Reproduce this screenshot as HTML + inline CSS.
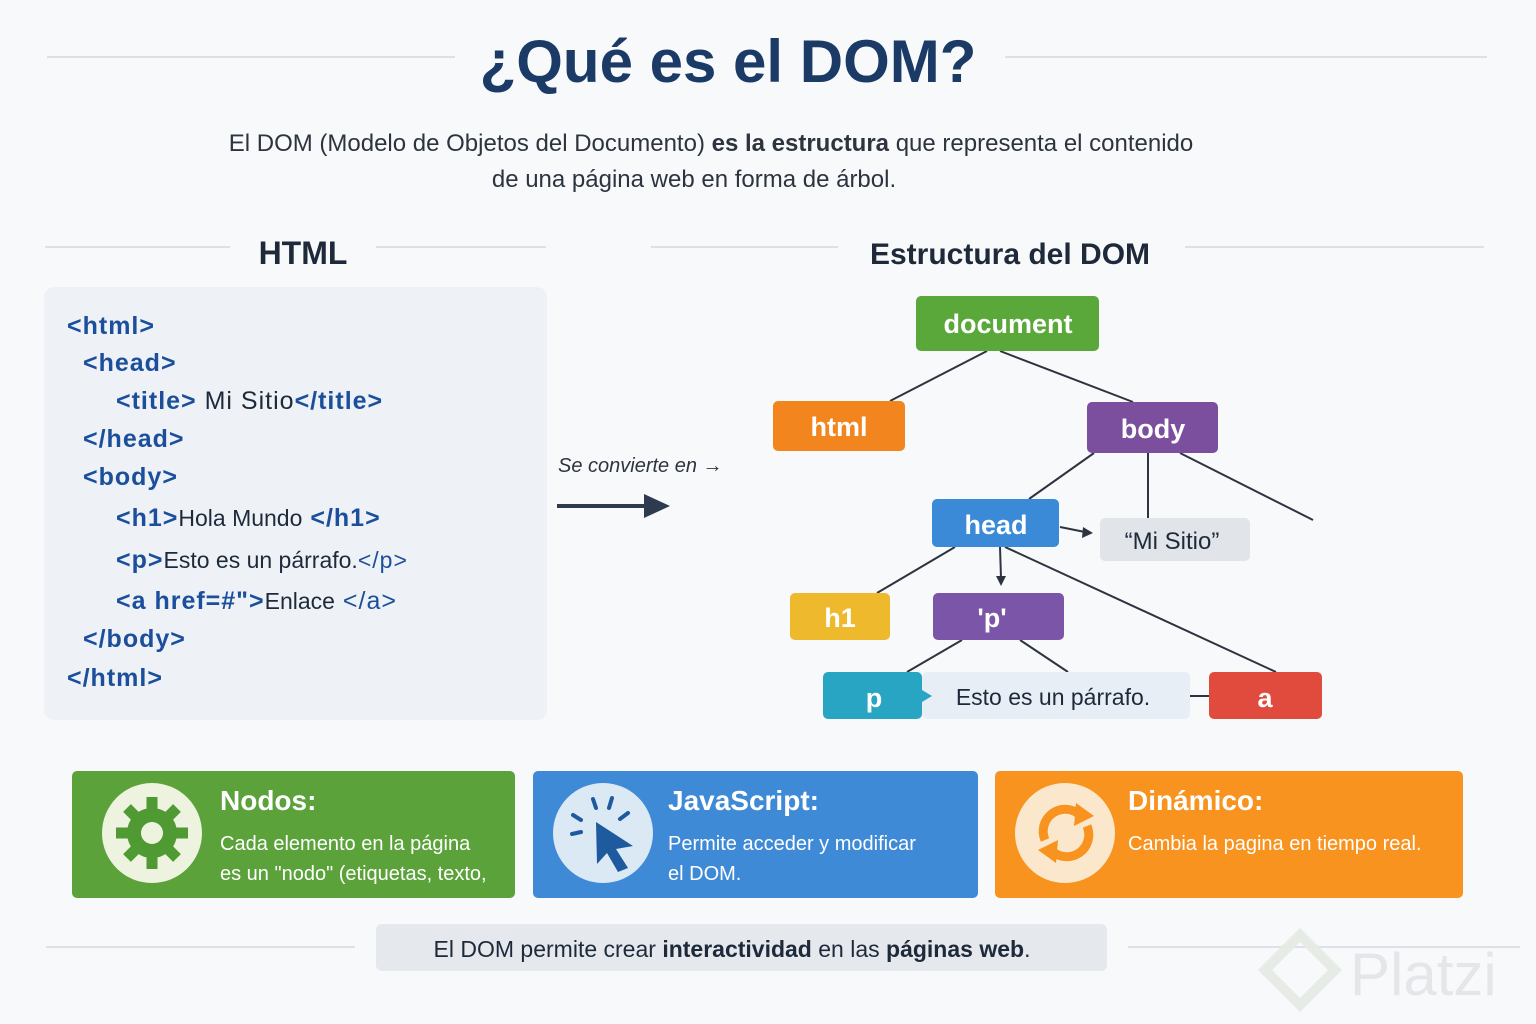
<!DOCTYPE html>
<html><head><meta charset="utf-8"><style>
html,body{margin:0;padding:0;background:#f8f9fb}
svg{display:block}
text{font-family:"Liberation Sans",sans-serif}
</style></head><body>
<svg width="1536" height="1024" viewBox="0 0 1536 1024" xmlns="http://www.w3.org/2000/svg">
<rect width="1536" height="1024" fill="#f8f9fb"/>
<g stroke="#dde1e7" stroke-width="2">
<line x1="47" y1="57" x2="455" y2="57"/><line x1="1005" y1="57" x2="1487" y2="57"/>
<line x1="45" y1="247" x2="230" y2="247"/><line x1="376" y1="247" x2="546" y2="247"/>
<line x1="651" y1="247" x2="838" y2="247"/><line x1="1185" y1="247" x2="1484" y2="247"/>
<line x1="46" y1="947" x2="355" y2="947"/><line x1="1128" y1="947" x2="1520" y2="947"/>
</g>
<text x="728" y="82" text-anchor="middle" font-size="60" font-weight="bold" fill="#1b3a66">¿Qué es el DOM?</text>
<text x="711" y="151" text-anchor="middle" font-size="24" fill="#2d3440">El DOM (Modelo de Objetos del Documento) <tspan font-weight="bold">es la estructura</tspan> que representa el contenido</text>
<text x="694" y="187" text-anchor="middle" font-size="24" fill="#2d3440">de una página web en forma de árbol.</text>
<text x="303" y="264" text-anchor="middle" font-size="32" font-weight="bold" fill="#1e2a3a">HTML</text>
<text x="1010" y="264" text-anchor="middle" font-size="30" font-weight="bold" fill="#1e2a3a">Estructura del DOM</text>

<rect x="44" y="287" width="503" height="433" rx="10" fill="#eef2f7"/>
<g font-size="25" fill="#1b4f9c" font-weight="bold" letter-spacing="1">
<text x="67" y="334">&lt;html&gt;</text>
<text x="83" y="371">&lt;head&gt;</text>
<text x="116" y="409">&lt;title&gt; <tspan fill="#1e2a3a" font-weight="normal">Mi Sitio</tspan>&lt;/title&gt;</text>
<text x="83" y="447">&lt;/head&gt;</text>
<text x="83" y="485">&lt;body&gt;</text>
<text x="116" y="526">&lt;h1&gt;<tspan fill="#1e2a3a" font-size="23" font-weight="normal" letter-spacing="0">Hola Mundo</tspan> &lt;/h1&gt;</text>
<text x="116" y="568">&lt;p&gt;<tspan fill="#1e2a3a" font-size="23" font-weight="normal" letter-spacing="0">Esto es un párrafo.</tspan><tspan font-size="23" font-weight="normal">&lt;/p&gt;</tspan></text>
<text x="116" y="609">&lt;a href=#"&gt;<tspan fill="#1e2a3a" font-size="23" font-weight="normal" letter-spacing="0">Enlace</tspan> <tspan font-weight="normal">&lt;/a&gt;</tspan></text>
<text x="83" y="647">&lt;/body&gt;</text>
<text x="67" y="686">&lt;/html&gt;</text>
</g>

<text x="558" y="472" font-size="20" font-style="italic" fill="#2d3440">Se convierte en →</text>
<line x1="557" y1="506" x2="655" y2="506" stroke="#2d3a4f" stroke-width="4"/>
<polygon points="670,506 644,494 644,518" fill="#2d3a4f"/>

<g stroke="#2d3440" stroke-width="2" fill="none">
<line x1="987" y1="351" x2="890" y2="401"/><line x1="1000" y1="351" x2="1133" y2="402"/>
<line x1="1094" y1="453" x2="1029" y2="499"/><line x1="1148" y1="453" x2="1148" y2="518"/>
<line x1="1180" y1="453" x2="1313" y2="520"/>
<line x1="955" y1="547" x2="877" y2="593"/><line x1="1000" y1="547" x2="1001" y2="578"/>
<line x1="1005" y1="547" x2="1276" y2="672"/>
<line x1="1060" y1="527" x2="1085" y2="532"/>
<line x1="962" y1="640" x2="907" y2="672"/><line x1="1020" y1="640" x2="1068" y2="672"/>
<line x1="1190" y1="696" x2="1209" y2="696"/>
</g>
<polygon points="1001,586 996,576 1006,576" fill="#2d3440"/>
<polygon points="1093,533 1083,527 1082,538" fill="#2d3440"/>

<g font-size="27" font-weight="bold" fill="#fff" text-anchor="middle">
<rect x="916" y="296" width="183" height="55" rx="5" fill="#5aa83a"/><text x="1008" y="333">document</text>
<rect x="773" y="401" width="132" height="50" rx="5" fill="#f2851e"/><text x="839" y="436">html</text>
<rect x="1087" y="402" width="131" height="51" rx="5" fill="#7c4f9e"/><text x="1153" y="438">body</text>
<rect x="932" y="499" width="127" height="48" rx="5" fill="#3a8ad8"/><text x="996" y="534">head</text>
<rect x="1100" y="518" width="150" height="43" rx="5" fill="#e1e4e8"/><text x="1172" y="549" fill="#1e2a3a" font-weight="normal" font-size="24">“Mi Sitio”</text>
<rect x="790" y="593" width="100" height="47" rx="5" fill="#efb92e"/><text x="840" y="627">h1</text>
<rect x="933" y="593" width="131" height="47" rx="5" fill="#7a55a8"/><text x="992" y="627">'p'</text>
<rect x="922" y="672" width="268" height="47" rx="5" fill="#e8eef5"/><text x="1053" y="705" fill="#1e2a3a" font-weight="normal" font-size="23">Esto es un párrafo.</text>
<rect x="823" y="672" width="99" height="47" rx="5" fill="#27a5c3"/><text x="874" y="707">p</text>
<polygon points="922,690 932,696 922,702" fill="#27a5c3"/>
<rect x="1209" y="672" width="113" height="47" rx="5" fill="#e14b3e"/><text x="1265" y="707">a</text>
</g>

<rect x="72" y="771" width="443" height="127" rx="5" fill="#5ba23a"/>
<rect x="533" y="771" width="445" height="127" rx="5" fill="#3e8ad6"/>
<rect x="995" y="771" width="468" height="127" rx="5" fill="#f7931e"/>
<circle cx="152" cy="833" r="50" fill="#eef3e0"/>
<circle cx="603" cy="833" r="50" fill="#dbe9f5"/>
<circle cx="1065" cy="833" r="50" fill="#fbe8cc"/>
<g fill="#4f9a32">
<circle cx="152" cy="833" r="25"/>
<g stroke="#4f9a32" stroke-width="11">
<line x1="152" y1="797" x2="152" y2="869"/><line x1="116" y1="833" x2="188" y2="833"/>
<line x1="127" y1="808" x2="177" y2="858"/><line x1="177" y1="808" x2="127" y2="858"/>
</g>
<circle cx="152" cy="833" r="11" fill="#eef3e0"/>
</g>
<g stroke="#1e5a9e" stroke-width="4" stroke-linecap="round">
<line x1="593" y1="799" x2="596" y2="808"/><line x1="612" y1="798" x2="609" y2="808"/>
<line x1="628" y1="813" x2="620" y2="819"/><line x1="573" y1="815" x2="581" y2="820"/>
<line x1="572" y1="834" x2="581" y2="832"/>
</g>
<polygon points="596,822 633,846 616,849 628,868 618,872 607,853 597,864" fill="#1e5a9e"/>
<g fill="none" stroke="#f7931e" stroke-width="9">
<path d="M1045,840 A22,22 0 0 1 1080,815"/><path d="M1087,826 A22,22 0 0 1 1052,851"/>
</g>
<polygon points="1076,803 1094,816 1074,826" fill="#f7931e"/>
<polygon points="1056,863 1038,850 1058,840" fill="#f7931e"/>
<g fill="#fff">
<text x="220" y="810" font-size="28" font-weight="bold">Nodos:</text>
<text x="220" y="850" font-size="20">Cada elemento en la página</text>
<text x="220" y="880" font-size="20">es un "nodo" (etiquetas, texto,</text>
<text x="668" y="810" font-size="28" font-weight="bold">JavaScript:</text>
<text x="668" y="850" font-size="20">Permite acceder y modificar</text>
<text x="668" y="880" font-size="20">el DOM.</text>
<text x="1128" y="810" font-size="28" font-weight="bold">Dinámico:</text>
<text x="1128" y="850" font-size="20">Cambia la pagina en tiempo real.</text>
</g>

<rect x="376" y="924" width="731" height="47" rx="6" fill="#e5e8ec"/>
<text x="732" y="957" text-anchor="middle" font-size="23" fill="#1e2a3a">El DOM permite crear <tspan font-weight="bold">interactividad</tspan> en las <tspan font-weight="bold">páginas web</tspan>.</text>
<text x="1350" y="995" font-size="60" fill="#e4e7ea">Platzi</text>
<polygon points="1300,935 1335,970 1300,1005 1265,970" fill="none" stroke="#e6ebe6" stroke-width="10"/>
</svg>
</body></html>
